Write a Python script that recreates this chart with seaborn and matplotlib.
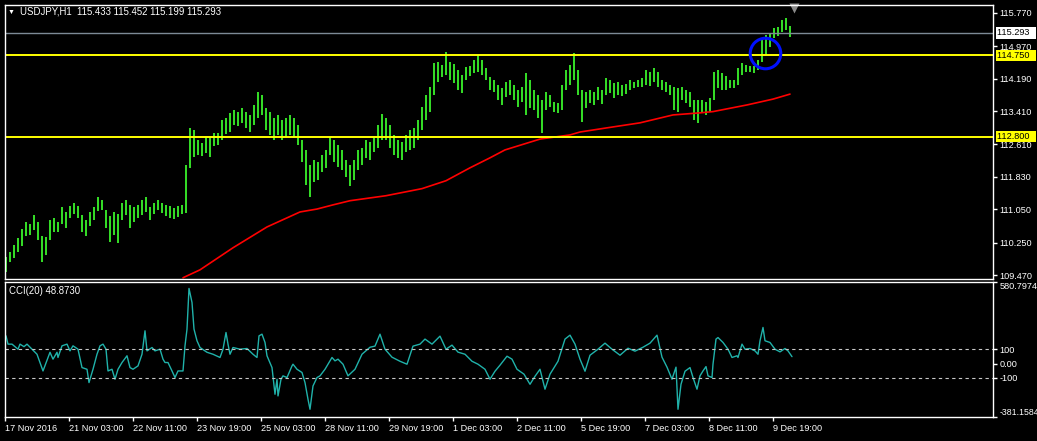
import numpy as np
import pandas as pd
import matplotlib
matplotlib.use("Agg")
import matplotlib.pyplot as plt
import matplotlib.transforms as mtransforms
import seaborn as sns

symbol = "USDJPY,H1"
last_ohlc = [115.433, 115.452, 115.199, 115.293]
cci_name = "CCI(20)"
cci_last = 48.8730

# bar highs / lows (one bar per 2 hours)
bar_high = [109.91, 110.03, 110.20, 110.37, 110.58, 110.75, 110.70, 110.92, 110.75, 110.42,
            110.39, 110.80, 110.85, 110.75, 111.11, 110.99, 111.14, 111.21, 111.14, 110.92,
            110.80, 110.99, 111.11, 111.35, 111.28, 111.04, 110.90, 110.99, 110.94, 111.21,
            111.28, 111.16, 111.11, 111.16, 111.28, 111.35, 111.11, 111.21, 111.28, 111.21,
            111.16, 111.14, 111.09, 111.14, 111.16, 112.12, 113.01, 112.96, 112.72, 112.65,
            112.79, 112.77, 112.89, 112.89, 113.20, 113.25, 113.37, 113.44, 113.39, 113.49,
            113.39, 113.32, 113.56, 113.87, 113.80, 113.49, 113.39, 113.25, 113.32, 113.20,
            113.25, 113.32, 113.25, 113.08, 112.72, 112.48, 112.12, 112.24, 112.19, 112.36,
            112.48, 112.79, 112.72, 112.60, 112.48, 112.24, 112.12, 112.24, 112.48, 112.53,
            112.72, 112.67, 112.77, 113.08, 113.34, 113.25, 113.08, 112.84, 112.72, 112.67,
            112.84, 112.96, 113.01, 113.20, 113.51, 113.80, 113.99, 114.57, 114.59, 114.52,
            114.83, 114.59, 114.54, 114.40, 114.28, 114.47, 114.50, 114.64, 114.76, 114.64,
            114.45, 114.23, 114.16, 114.04, 113.97, 114.11, 114.16, 114.04, 113.92, 113.99,
            114.33, 114.16, 113.92, 113.80, 113.68, 113.87, 113.80, 113.63, 113.61, 114.04,
            114.40, 114.52, 114.81, 114.40, 113.92, 113.87, 113.92, 113.87, 113.99, 113.92,
            114.21, 114.16, 114.09, 114.11, 114.04, 114.06, 114.16, 114.11, 114.16, 114.21,
            114.40, 114.35, 114.45, 114.35, 114.16, 114.11, 114.04, 113.99, 113.97, 113.99,
            113.92, 113.87, 113.68, 113.68, 113.68, 113.63, 113.73, 114.35, 114.40, 114.33,
            114.26, 114.16, 114.16, 114.45, 114.57, 114.52, 114.50, 114.50, 114.64, 115.17,
            115.24, 115.29, 115.41, 115.43, 115.60, 115.65, 115.45]
bar_low = [109.55, 109.79, 109.89, 110.03, 110.18, 110.42, 110.44, 110.56, 110.32, 109.79,
           109.96, 110.32, 110.51, 110.51, 110.70, 110.61, 110.85, 110.94, 110.85, 110.51,
           110.42, 110.66, 110.80, 111.02, 111.04, 110.61, 110.27, 110.44, 110.25, 110.80,
           110.92, 110.61, 110.75, 110.85, 110.92, 110.99, 110.80, 110.94, 111.04, 110.97,
           110.90, 110.85, 110.82, 110.87, 110.94, 110.97, 112.05, 112.31, 112.36, 112.34,
           112.41, 112.31, 112.58, 112.60, 112.72, 112.86, 112.91, 113.08, 113.06, 113.13,
           113.01, 112.91, 113.08, 113.25, 113.32, 112.96, 112.84, 112.72, 112.84, 112.72,
           112.79, 112.84, 112.77, 112.60, 112.19, 111.64, 111.35, 111.71, 111.76, 111.95,
           112.05, 112.36, 112.19, 112.07, 112.00, 111.83, 111.62, 111.76, 112.00, 112.12,
           112.29, 112.24, 112.43, 112.53, 112.72, 112.72, 112.53, 112.36, 112.29, 112.24,
           112.43, 112.48, 112.53, 112.72, 112.96, 113.20, 113.39, 113.80, 114.11, 114.23,
           114.28, 114.16, 114.09, 113.92, 113.85, 114.16, 114.26, 114.33, 114.35, 114.28,
           114.16, 113.92, 113.87, 113.68, 113.56, 113.75, 113.80, 113.68, 113.51, 113.63,
           113.32, 113.49, 113.44, 113.25, 112.89, 113.44, 113.51, 113.39, 113.37, 113.44,
           113.92, 114.04, 114.16, 113.80, 113.15, 113.49, 113.61, 113.56, 113.68, 113.58,
           113.80, 113.85, 113.73, 113.80, 113.78, 113.82, 113.92, 113.97, 113.99, 113.99,
           114.04, 114.02, 114.11, 113.99, 113.92, 113.87, 113.80, 113.44, 113.39, 113.68,
           113.61, 113.51, 113.20, 113.13, 113.37, 113.32, 113.39, 113.68, 113.97, 113.92,
           113.92, 113.97, 113.97, 114.04, 114.28, 114.35, 114.35, 114.33, 114.40, 114.59,
           114.76, 114.95, 115.17, 115.22, 115.31, 115.36, 115.20]

# moving average (red) sampled along the bars
ma_bar = [44.25, 48.5, 56.75, 65.25, 73.5, 77.75, 81.75, 86, 95, 104, 110, 116, 121, 124.75,
          133.5, 141, 143.5, 150.25, 158.5, 166.75, 173.5, 176.75, 185.25, 191.75, 196]
ma_value = [109.41, 109.60, 110.13, 110.63, 110.99, 111.06, 111.16, 111.26, 111.38, 111.55,
            111.74, 112.05, 112.29, 112.48, 112.74, 112.84, 112.91, 113.01, 113.13, 113.32,
            113.37, 113.40, 113.56, 113.70, 113.82]

cci_bar = [0, 0.5, 1.5, 3, 3.5, 4.5, 5.25, 6.5, 7.75, 9.25,
           10.5, 11, 11.75, 12.75, 13, 14, 15.25, 16, 16.75, 18,
           19, 20.25, 20.75, 21.75, 22.75, 23.5, 24.25, 25, 25.5, 26.5,
           27.25, 28, 29, 30.25, 31, 31.75, 33, 34, 34.75, 35.25,
           36.5, 37.25, 38.5, 39.25, 39.75, 40.5, 41.5, 42.25, 43, 44.25,
           44.75, 45.25, 45.75, 46.5, 47, 47.75, 48.5, 50.25, 51.75, 53.5,
           54.25, 55, 55.5, 56, 56.75, 58.5, 60.25, 61.75, 62.75, 63.25,
           64, 64.75, 65.25, 66.5, 67.25, 67.75, 68, 68.75, 69.25, 70.25,
           71.5, 71.75, 72.75, 74, 74.75, 75.5, 76, 76.75, 77.75, 78.5,
           79.75, 81.5, 82.25, 83, 84.25, 85.5, 87.25, 89, 91, 92.25,
           93.5, 94.75, 96.5, 98.5, 100.25, 101.75, 103.5, 104.75, 106.5, 108.5,
           110, 111.5, 113, 114.75, 116.5, 118, 119.75, 121, 122.25, 123.5,
           125.25, 126.5, 127.75, 129.5, 131, 132.25, 133.5, 134.75, 136, 138,
           139.75, 141, 142.25, 143.5, 144.75, 146, 148, 149.75, 151.5, 153.5,
           155.5, 157.25, 159.25, 161, 162.75, 164, 165.25, 166.5, 167.5, 168,
           168.75, 169.75, 171, 171.75, 172.75, 173.5, 174.25, 175, 175.5, 176.5,
           176.75, 177.5, 178, 179.25, 180.5, 181.5, 182.75, 183, 184, 184.75,
           186, 187.25, 188, 188.5, 189.25, 189.75, 191, 192.25, 193.5, 194.75,
           195.5, 196.5]
cci_value = [197, 138, 138, 102, 138, 120, 138, 102, 66, -53,
             43, 80, 31, 80, 43, 126, 138, 90, 126, 102,
             -29, -41, -136, -41, 66, 126, 138, 102, -53, -41,
             -112, -41, 7, 55, -29, -41, -17, 66, 233, 90,
             114, 90, 102, 31, 7, 7, -53, -100, -53, -53,
             126, 245, 535, 435, 245, 162, 114, 80, 66, 43,
             102, 221, 138, 66, 114, 102, 107, 66, 43, 197,
             209, 150, 55, -29, -219, -112, -231, -112, -88, -100,
             -17, -5, -41, -64, -136, -255, -326, -160, -100, -88,
             -41, 43, 19, 31, -5, -88, -41, 66, 116, 124,
             209, 102, 45, 16, -5, 124, 138, 174, 138, 195,
             102, 131, 81, 66, 16, -5, -41, -112, -55, -12,
             52, 31, -41, -76, -148, -91, -41, -183, -76, 16,
             174, 202, 138, 31, -55, 59, 102, 145, 102, 59,
             109, 88, 116, 145, 202, 45, -26, -112, -26, -326,
             -148, -55, -29, -100, -183, -88, -53, -22, -88, -100,
             -5, 174, 185, 150, 102, 43, 55, 43, 138, 102,
             107, 90, 66, 162, 257, 162, 150, 102, 83, 107,
             90, 48.87]

time_labels = ["17 Nov 2016", "21 Nov 03:00", "22 Nov 11:00", "23 Nov 19:00", "25 Nov 03:00",
               "28 Nov 11:00", "29 Nov 19:00", "1 Dec 03:00", "2 Dec 11:00", "5 Dec 19:00",
               "7 Dec 03:00", "8 Dec 11:00", "9 Dec 19:00"]
bars_per_label = 16

price_ticks = [115.770, 114.970, 114.190, 113.410, 112.610, 111.830, 111.050, 110.250, 109.470]
hline_levels = [114.750, 112.800]
cci_levels = [100, -100]
cci_ticks = [580.7974, 100, 0, -100, -381.1584]
cci_tick_labels = ["580.7974", "100", "0.00", "-100", "-381.1584"]
circle_bar, circle_price = 189.75, 114.81

W, H = 1037, 441
sns.set_theme(style="dark", rc={"axes.facecolor": "black", "figure.facecolor": "black",
                                "axes.edgecolor": "white", "text.color": "white",
                                "xtick.color": "white", "ytick.color": "white"})
plt.rcParams["font.family"] = ["Liberation Sans", "DejaVu Sans"]
fs = 6.6

fig = plt.figure(figsize=(W / 100, H / 100), dpi=100, facecolor="black")

def px_box(x0, y0, x1, y1):
    return [x0 / W, 1 - y1 / H, (x1 - x0) / W, (y1 - y0) / H]

ax = fig.add_axes(px_box(5, 5, 993, 279))
ax2 = fig.add_axes(px_box(5, 282, 993, 417), sharex=ax)

bars = pd.DataFrame({"bar": np.arange(len(bar_high)), "high": bar_high, "low": bar_low})
ax.vlines(bars["bar"], bars["low"], bars["high"], color="#34da26", lw=1.45)

ma = pd.DataFrame({"bar": ma_bar, "ma": ma_value})
sns.lineplot(data=ma, x="bar", y="ma", ax=ax, color="#ff0000", lw=1.2)

ax.axhline(last_ohlc[3], color="#7d8a96", lw=1)
for lv in hline_levels:
    ax.axhline(lv, color="#ffff00", lw=1.4)

ax.plot(circle_bar, circle_price, marker="o", ms=22, mfc="none", mec="#0010ff", mew=2.2)

top = mtransforms.blended_transform_factory(ax.transData, ax.transAxes)
ax.plot([len(bar_high)], [0.99], marker="v", ms=7, color="#8a8a8a", mec="none",
        transform=top, clip_on=False)

ax.set_ylim(109.38, 115.96)
ax.set_xlim(-0.25, 246.75)
ax.yaxis.tick_right()
ax.set_yticks(price_ticks)
ax.set_yticklabels([f"{v:.3f}" for v in price_ticks])
ax.tick_params(axis="y", direction="out", length=3, width=1, pad=1.5, labelsize=fs,
               colors="white", right=True, left=False)
ax.tick_params(axis="x", bottom=False, labelbottom=False)
ax.set_xlabel("")
ax.set_ylabel("")

ytr = mtransforms.blended_transform_factory(ax.transAxes, ax.transData)
tags = [(last_ohlc[3], "white")] + [(lv, "#ffff00") for lv in hline_levels]
for v, bg in tags:
    ax.text(1.004, v, f"{v:.3f}  ", transform=ytr, ha="left", va="center", fontsize=fs,
            color="black", clip_on=False,
            bbox=dict(boxstyle="square,pad=0.15", fc=bg, ec="none"))

cci = pd.DataFrame({"bar": cci_bar, "cci": cci_value})
sns.lineplot(data=cci, x="bar", y="cci", ax=ax2, color="#20b2aa", lw=1)
for lv in cci_levels:
    ax2.axhline(lv, color="#c8c8c8", lw=0.8, ls=(0, (3, 3)))
ax2.set_ylim(cci_ticks[-1], cci_ticks[0])
ax2.yaxis.tick_right()
ax2.set_yticks(cci_ticks)
ax2.set_yticklabels(cci_tick_labels)
ax2.tick_params(axis="y", direction="out", length=3, width=1, pad=1.5, labelsize=fs,
                colors="white", right=True, left=False)
lbls = ax2.get_yticklabels()
lbls[0].set_va("top")
lbls[-1].set_va("bottom")
lbls[-1].set_fontsize(fs - 0.3)

ax2.set_xticks(np.arange(len(time_labels)) * bars_per_label - 0.25)
ax2.set_xticklabels(time_labels, ha="left")
ax2.tick_params(axis="x", direction="out", length=3, width=1, pad=2, labelsize=fs,
                colors="white", bottom=True)
ax2.set_xlabel("")
ax2.set_ylabel("")

for a in (ax, ax2):
    a.grid(False)
    for s in a.spines.values():
        s.set_color("white")
        s.set_linewidth(1)

fig.text(8 / W, 1 - 12 / H, "\u25bc", fontsize=5, color="white", va="center")
fig.text(20 / W, 1 - 12 / H, f"{symbol}  " + " ".join(f"{v:.3f}" for v in last_ohlc),
         fontsize=fs + 0.3, color="white", va="center")
fig.text(9 / W, 1 - 291 / H, f"{cci_name} {cci_last:.4f}", fontsize=fs + 0.3,
         color="white", va="center")

fig.savefig("out.png", dpi=100, facecolor="black")
